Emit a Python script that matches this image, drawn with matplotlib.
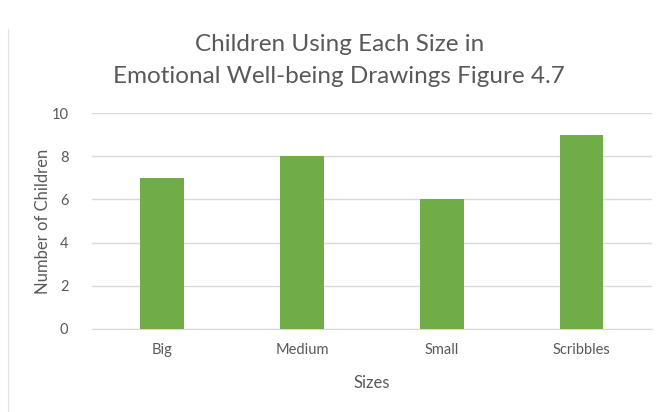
import matplotlib
matplotlib.use("Agg")
import matplotlib.pyplot as plt
from matplotlib.lines import Line2D

categories = ["Big", "Medium", "Small", "Scribbles"]
counts = [7, 8, 6, 9]
y_ticks = [0, 2, 4, 6, 8, 10]

plt.rcParams['font.family'] = ['Lato', 'DejaVu Sans']
text_color = "#595959"
bar_color = "#70AD47"
grid_color = "#D9D9D9"

fig = plt.figure(figsize=(6.68, 4.12), dpi=100)
ax = fig.add_axes([0.1377, 0.2015, 0.838, 0.5242])

x = range(len(categories))
ax.bar(x, counts, width=0.31, color=bar_color, zorder=3)

ax.set_xlim(-0.5, len(categories) - 0.5)
ax.set_ylim(0, 10)
ax.set_yticks(y_ticks)
ax.set_xticks(list(x))
ax.set_xticklabels(categories)

ax.grid(axis="y", color=grid_color, linewidth=1, zorder=0)
for side in ["top", "right", "left"]:
    ax.spines[side].set_visible(False)
ax.spines["bottom"].set_color(grid_color)
ax.tick_params(axis="both", length=0, colors=text_color, labelsize=10.5)
ax.tick_params(axis="y", pad=17)
ax.tick_params(axis="x", pad=10)

ax.set_xlabel("Sizes", color=text_color, fontsize=12, labelpad=13)
ax.set_ylabel("Number of Children", color=text_color, fontsize=12, labelpad=0)

fig.text(0.508, 0.893, "Children Using Each Size in", ha="center", va="center",
         fontsize=17.5, color=text_color)
fig.text(0.508, 0.815, "Emotional Well-being Drawings Figure 4.7", ha="center", va="center",
         fontsize=17.5, color=text_color)

# thin page edge line on the left
fig.add_artist(Line2D([0.012, 0.012], [0.0, 0.93], transform=fig.transFigure,
                      color="#E4E4E4", linewidth=0.8))

fig.savefig("out.png", dpi=100)
